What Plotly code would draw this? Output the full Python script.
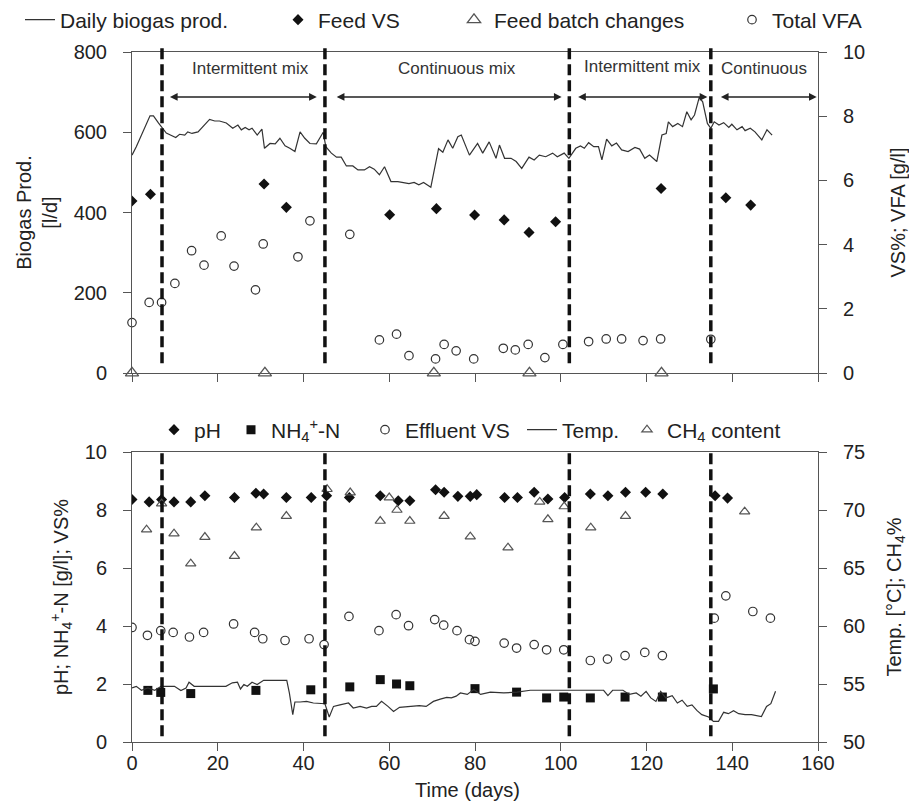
import plotly.graph_objects as go

# ---------------- data: top panel ----------------
biogas_day = [0, 1, 4.2, 5, 6.2, 8, 9.2, 10.2, 11.1, 12.3, 13, 14, 15.4, 16.6, 18.1, 19.3, 20.4, 22,
              23.5, 24.7, 25.5, 26.4, 27.3, 28, 29.2, 30.3, 30.9, 32.2, 33.4, 34.5, 35.7, 36.8, 38,
              39.2, 40.3, 41.5, 43, 44.6, 45.2, 46.5, 47.7, 48.8, 50, 51.5, 52.7, 54.2, 55.4, 56.5,
              57.7, 58.9, 60.4, 62, 63.5, 64.6, 65.8, 66.9, 68, 69.7, 71.5, 72.5, 73.7, 74.8, 76,
              76.8, 78.7, 80.6, 81.8, 83.3, 84.9, 85.7, 86.9, 88.4, 89.6, 90.9, 92.6, 93.8, 95, 96.5,
              98.1, 99.2, 100.8, 101.9, 103.5, 104.6, 105.5, 106.5, 107.7, 108.8, 109.6, 110.7, 111.9,
              113, 114.2, 115.7, 117.3, 118.4, 119.6, 120.7, 122.4, 123.6, 124.6, 125.1, 126.1, 127.3,
              128.4, 129.4, 130.4, 131.2, 132.3, 133.1, 134.2, 135, 135.8, 136.9, 138, 139.2, 139.9,
              141.1, 142.3, 143, 144.2, 145.3, 146.9, 148.1, 149.3]
biogas_prod = [543, 564, 641, 641, 623, 598, 592, 587, 595, 593, 601, 597, 601, 615, 632, 628, 628, 623,
               610, 618, 606, 612, 606, 610, 593, 608, 560, 572, 571, 585, 566, 560, 552,
               601, 585, 572, 571, 600, 564, 548, 538, 538, 516, 516, 506, 506, 514, 508,
               494, 514, 477, 477, 475, 472, 475, 469, 475, 463, 559, 550, 581, 560, 589,
               593, 543, 572, 548, 576, 535, 568, 535, 535, 527, 510, 538, 531, 543, 539,
               548, 539, 548, 535, 560, 566, 560, 574, 564, 564, 531, 583, 566,
               573, 556, 552, 562, 558, 535, 543, 527, 593, 597, 626, 614, 622,
               614, 651, 631, 643, 687, 676, 622, 610, 626, 618, 624, 612, 620,
               606, 614, 604, 610, 601, 581, 606, 593]

feed_vs_day = [0, 4.3, 30.8, 36, 60.1, 71, 79.9, 86.8, 92.6, 98.8, 123.4, 138.5, 144.3]
feed_vs = [5.36, 5.57, 5.89, 5.16, 4.93, 5.12, 4.92, 4.77, 4.38, 4.71, 5.75, 5.46, 5.23]

batch_change_day = [0, 31, 70.4, 92.7, 123.5]
batch_change_val = [0, 0, 0, 0, 0]

vfa_day = [0, 4, 6.9, 10, 13.9, 16.8, 20.8, 23.8, 28.8, 30.6, 38.7, 41.5, 50.8, 57.7, 61.7, 64.6,
           70.8, 72.8, 75.6, 79.7, 86.6, 89.4, 92.4, 96.3, 100.5, 106.5, 110.6, 114.2, 119.2, 123.3, 135]
vfa = [1.57, 2.20, 2.20, 2.79, 3.81, 3.36, 4.27, 3.33, 2.59, 4.02, 3.62, 4.74, 4.32, 1.03, 1.21, 0.54,
       0.44, 0.89, 0.69, 0.44, 0.77, 0.72, 0.89, 0.48, 0.89, 0.98, 1.06, 1.06, 1.01, 1.06, 1.05]

# ---------------- data: bottom panel ----------------
ph_day = [0, 4, 6.9, 9.8, 13.7, 17, 23.9, 28.9, 30.7, 36, 41.8, 45.4, 50.7, 57.9, 62.1, 64.8,
          70.8, 72.8, 76, 78.9, 80.4, 86.9, 89.9, 93.8, 97, 100.9, 106.9, 111, 115.1, 119.8, 123.8,
          136, 138.9]
ph = [8.36, 8.28, 8.36, 8.28, 8.28, 8.49, 8.43, 8.58, 8.55, 8.43, 8.43, 8.49, 8.43, 8.49, 8.32, 8.32,
      8.70, 8.61, 8.47, 8.47, 8.53, 8.43, 8.43, 8.61, 8.38, 8.43, 8.55, 8.49, 8.61, 8.61, 8.55,
      8.49, 8.41]

nh4_day = [3.7, 6.7, 13.7, 28.9, 41.7, 50.8, 57.9, 61.7, 64.8, 80, 89.7, 96.7, 100.7, 106.9, 115,
           123.7, 135.6]
nh4 = [1.78, 1.71, 1.67, 1.78, 1.80, 1.90, 2.15, 2.00, 1.94, 1.84, 1.72, 1.52, 1.55, 1.52, 1.55,
       1.55, 1.83]

eff_vs_day = [0, 3.6, 6.7, 9.6, 13.4, 16.7, 23.7, 28.6, 30.5, 35.7, 41.3, 44.8, 50.6, 57.6, 61.6,
              64.5, 70.6, 72.7, 75.8, 78.7, 80, 86.8, 89.7, 93.8, 96.7, 100.7, 106.9, 110.9, 115,
              119.6, 123.7, 135.8, 138.5, 144.8, 148.9]
eff_vs = [3.95, 3.68, 3.84, 3.78, 3.62, 3.78, 4.07, 3.78, 3.56, 3.50, 3.56, 3.36, 4.33, 3.84, 4.39,
          4.01, 4.22, 4.03, 3.84, 3.53, 3.47, 3.41, 3.24, 3.36, 3.18, 3.18, 2.81, 2.86, 2.98,
          3.09, 2.98, 4.27, 5.04, 4.50, 4.27]

temp_day = [0, 1, 2.2, 3.7, 5.3, 6.8, 9.9, 11.4, 12.6, 13.3, 14.5, 21.9, 23.4, 24.6, 25.3, 26.1,
            26.9, 28, 29.2, 30.7, 36.1, 36.7, 37.5, 38, 39.2, 40.7, 42.3, 43.8, 45, 46, 47, 48.5,
            50.5, 51.6, 53.2, 54.7, 55.9, 57, 58.2, 59.7, 61, 62.4, 64.7, 67, 68.6, 70.3, 71.9,
            73.4, 74.5, 75.6, 76.6, 78.2, 79.7, 81.3, 83.6, 86.7, 89.8, 92.9, 110, 111, 112.1,
            114.5, 116, 117.6, 118.7, 119.9, 121, 122.2, 123.3, 124.5, 126, 127.2, 128.3, 129.5,
            130.6, 131.8, 132.9, 134.5, 135.6, 136.8, 138, 139.1, 140.3, 141.5, 143, 144.5, 146.8,
            148, 149, 150.1]
temp = [54.66, 54.8, 54.46, 54.66, 54.46, 54.8, 54.8, 54.43, 54.66, 55.15, 54.8, 54.8, 55.1, 55.15,
        54.57, 54.95, 54.8, 55.15, 54.95, 55.32, 55.32, 54.23, 52.36, 53.45, 53.45, 53.5, 53.36,
        53.36, 53.3, 52.16, 53.07, 53.2, 53.36, 52.93, 53.07, 52.93, 53.07, 53.07, 53.5, 53.07,
        52.64, 52.99, 53.07, 53.13, 53.07, 53.5, 53.7, 53.85, 53.8, 53.95, 54.23, 54.1, 54.52,
        54.1, 54.3, 54.23, 54.3, 54.46, 54.46, 54.0, 54.46, 54.46, 54.1, 54.23, 53.95, 54.37,
        53.8, 53.5, 54.37, 53.8, 54.0, 53.36, 53.6, 53.07, 53.2, 52.7, 52.36, 52.16, 51.78,
        51.78, 52.56, 52.44, 52.7, 52.44, 52.36, 52.36, 52.2, 53.07, 53.3, 54.37]

ch4_day = [3.4, 6.9, 9.8, 13.7, 17, 23.9, 29, 36, 45.5, 50.9, 57.9, 60, 61.8, 64.8, 72.8, 78.9,
           87.7, 95.1, 97, 100.8, 107, 115.1, 142.9]
ch4 = [68.3, 70.55, 67.96, 65.37, 67.67, 66.03, 68.48, 69.48, 71.79, 71.5, 69.05, 71.07, 70.0,
       69.05, 69.48, 67.7, 66.75, 70.7, 69.2, 70.3, 68.48, 69.48, 69.86]

# mixing phases
phase_change_day = [7, 45, 102, 135]
phase_names = ["Intermittent mix", "Continuous mix", "Intermittent mix", "Continuous"]
phase_label_day = [27.6, 75.9, 119.0, 147.3]
phase_label_val = [760, 760, 765, 758]
phase_arrow_from = [8.5, 47.4, 103.7, 137.0]
phase_arrow_to = [43.1, 100.2, 134.2, 159.7]
phase_arrow_val = 688

# ---------------- styling ----------------
FONT = "Arial, Liberation Sans, sans-serif"
TXT = "#222222"
AX = "#555555"
MARK = "#111111"
OPEN = "#333333"

fig = go.Figure()

# top panel
fig.add_trace(go.Scatter(x=biogas_day, y=biogas_prod, mode="lines", name="Daily biogas prod.",
                         line=dict(color="#333333", width=1.2), xaxis="x", yaxis="y",
                         legend="legend", showlegend=True))
fig.add_trace(go.Scatter(x=feed_vs_day, y=feed_vs, mode="markers", name="Feed VS",
                         marker=dict(symbol="diamond", size=8.5, color=MARK),
                         xaxis="x", yaxis="y2", legend="legend2"))
fig.add_trace(go.Scatter(x=batch_change_day, y=batch_change_val, mode="markers",
                         name="Feed batch changes", cliponaxis=False,
                         marker=dict(symbol="triangle-up-open", size=11.5, color="#555555",
                                     line=dict(width=1.3)),
                         xaxis="x", yaxis="y", legend="legend3"))
fig.add_trace(go.Scatter(x=vfa_day, y=vfa, mode="markers", name="Total VFA", cliponaxis=False,
                         marker=dict(symbol="circle-open", size=8.5, color=OPEN,
                                     line=dict(width=1.2)),
                         xaxis="x", yaxis="y2", legend="legend4"))

# bottom panel
fig.add_trace(go.Scatter(x=temp_day, y=temp, mode="lines", name="Temp.",
                         line=dict(color="#333333", width=1.2), xaxis="x2", yaxis="y4",
                         legend="legend8"))
fig.add_trace(go.Scatter(x=ph_day, y=ph, mode="markers", name="pH",
                         marker=dict(symbol="diamond", size=8.5, color=MARK),
                         xaxis="x2", yaxis="y3", legend="legend5"))
fig.add_trace(go.Scatter(x=nh4_day, y=nh4, mode="markers", name="NH<sub>4</sub><sup>+</sup>-N",
                         marker=dict(symbol="square", size=9, color=MARK),
                         xaxis="x2", yaxis="y3", legend="legend6"))
fig.add_trace(go.Scatter(x=eff_vs_day, y=eff_vs, mode="markers", name="Effluent VS",
                         marker=dict(symbol="circle-open", size=8.5, color=OPEN,
                                     line=dict(width=1.2)),
                         xaxis="x2", yaxis="y3", legend="legend7"))
fig.add_trace(go.Scatter(x=ch4_day, y=ch4, mode="markers", name="CH<sub>4</sub> content",
                         marker=dict(symbol="triangle-up-open", size=9, color="#555555",
                                     line=dict(width=1.2)),
                         xaxis="x2", yaxis="y4", legend="legend9"))

W, H = 909, 809
ML, MR, MT, MB = 132, 91, 52, 67
ph_ = H - MT - MB
top_dom = [(742 - 373) / ph_, 1.0]
bot_dom = [0.0, (742 - 452) / ph_]

axis_common = dict(showgrid=False, zeroline=False, showline=True, linecolor=AX, linewidth=1,
                   ticks="outside", ticklen=8, tickcolor=AX, tickwidth=1,
                   tickfont=dict(family=FONT, size=20, color=TXT))

legend_font = dict(family=FONT, size=21, color=TXT)


def leg(px_text_start, py_center):
    return dict(xref="container", yref="container", x=(px_text_start - 40) / W,
                y=1 - py_center / H, xanchor="left", yanchor="middle",
                font=legend_font, bgcolor="rgba(0,0,0,0)", borderwidth=0,
                orientation="h", itemwidth=30)


fig.update_layout(
    width=W, height=H,
    showlegend=True,
    margin=dict(l=ML, r=MR, t=MT, b=MB, pad=0, autoexpand=False),
    paper_bgcolor="white", plot_bgcolor="white",
    font=dict(family=FONT, size=20, color=TXT),
    xaxis=dict(domain=[0, 1], anchor="y", range=[0, 160], dtick=20, showticklabels=False,
               mirror=True, **axis_common),
    yaxis=dict(domain=top_dom, anchor="x", range=[0, 800], dtick=200,
               title=dict(text="Biogas Prod.<br>[l/d]", standoff=10,
                          font=dict(family=FONT, size=20, color=TXT)),
               ticklabelstandoff=12, **axis_common),
    yaxis2=dict(overlaying="y", anchor="x", side="right", range=[0, 10], dtick=2,
                title=dict(text="VS%; VFA [g/l]", standoff=26,
                           font=dict(family=FONT, size=20, color=TXT)),
                ticklabelstandoff=12, **axis_common),
    xaxis2=dict(domain=[0, 1], anchor="y3", range=[0, 160], dtick=20, mirror=True,
                ticklabelstandoff=-5, **axis_common),
    yaxis3=dict(domain=bot_dom, anchor="x2", range=[0, 10], dtick=2,
                title=dict(text="pH; NH<sub>4</sub><sup>+</sup>-N [g/l]; VS%", standoff=10,
                           font=dict(family=FONT, size=20, color=TXT)),
                ticklabelstandoff=12, **axis_common),
    yaxis4=dict(overlaying="y3", anchor="x2", side="right", range=[50, 75], dtick=5,
                title=dict(text="Temp. [°C]; CH<sub>4</sub>%", standoff=22,
                           font=dict(family=FONT, size=20, color=TXT)),
                ticklabelstandoff=12, **axis_common),
    legend=leg(60, 20),
    legend2=leg(318, 20),
    legend3=leg(494, 20),
    legend4=leg(772, 20),
    legend5=leg(194, 430),
    legend6=leg(271, 430),
    legend7=leg(405, 430),
    legend8=leg(562, 430),
    legend9=leg(667, 430),
)

# x-axis title of the lower panel
fig.add_annotation(text="Time (days)", xref="paper", yref="paper", x=(467 - ML) / (W - ML - MR),
                   y=(742 - 790) / ph_, xanchor="center", yanchor="middle", showarrow=False,
                   font=dict(family=FONT, size=20, color=TXT))

# dashed phase-change lines
for d in phase_change_day:
    fig.add_shape(type="line", xref="x", yref="y domain", x0=d, x1=d, y0=0.03, y1=1.02,
                  line=dict(color="#111111", width=3.5, dash="11px,5px"))
    fig.add_shape(type="line", xref="x2", yref="y3 domain", x0=d, x1=d, y0=0.02, y1=1.0,
                  line=dict(color="#111111", width=3.5, dash="11px,5px"))

# phase labels and double arrows
for name, lx, ly in zip(phase_names, phase_label_day, phase_label_val):
    fig.add_annotation(x=lx, y=ly, xref="x", yref="y", text=name, showarrow=False,
                       font=dict(family=FONT, size=17, color="#333333"))
for a0, a1 in zip(phase_arrow_from, phase_arrow_to):
    fig.add_annotation(x=a1, y=phase_arrow_val, ax=a0, ay=phase_arrow_val, xref="x", yref="y",
                       axref="x", ayref="y", text="", showarrow=True, arrowside="end+start",
                       arrowhead=2, arrowsize=1.1, arrowwidth=1.4, arrowcolor="#222222",
                       standoff=0, startstandoff=0)

fig.write_html("out.html", config={"displayModeBar": False},
               post_script="document.body.style.margin='0';")
